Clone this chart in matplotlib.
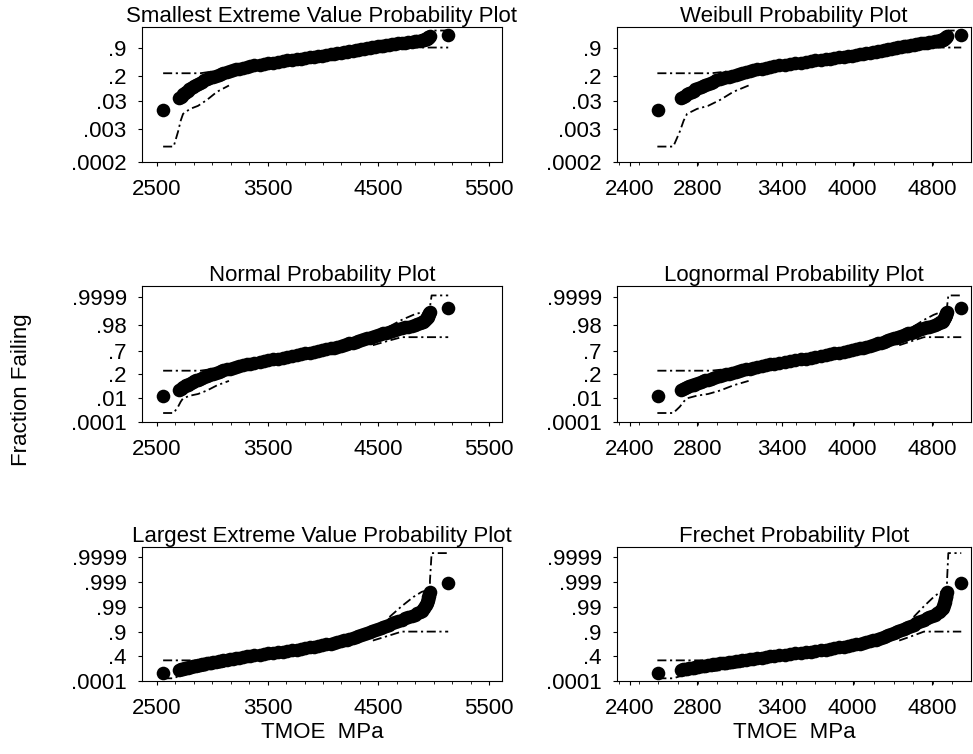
import numpy as np
import matplotlib
matplotlib.use('Agg')
import matplotlib.pyplot as plt
from matplotlib.ticker import FixedLocator, FixedFormatter, AutoMinorLocator, NullFormatter
from statistics import NormalDist

plt.rcParams['font.family'] = ['Liberation Sans', 'DejaVu Sans']

# sorted TMOE (MPa) and fraction failing
tmoe = [2557, 2698, 2722, 2750, 2776, 2805, 2836, 2868, 2905, 2948, 2990, 3035,
        3080, 3130, 3185, 3245, 3310, 3380, 3465, 3550, 3635, 3720, 3800, 3880,
        3955, 4030, 4100, 4160, 4215, 4268, 4320, 4370, 4420, 4470, 4520, 4570,
        4620, 4680, 4740, 4800, 4850, 4890, 4915, 4930, 4940, 4948, 4955, 4962, 5131]
frac = [0.0139, 0.0359, 0.0446, 0.0548, 0.0668, 0.0808, 0.0968, 0.1151, 0.1357,
        0.1587, 0.1841, 0.2119, 0.2420, 0.2743, 0.3085, 0.3446, 0.3821, 0.4207,
        0.4602, 0.5000, 0.5398, 0.5793, 0.6179, 0.6554, 0.6915, 0.7257, 0.7580,
        0.7881, 0.8159, 0.8413, 0.8643, 0.8849, 0.9032, 0.9192, 0.9332, 0.9452,
        0.9554, 0.9641, 0.9713, 0.9772, 0.9821, 0.9861, 0.9893, 0.9918, 0.9938,
        0.9953, 0.9965, 0.9974, 0.9989]
# the points lying between those along the dense chain
tmoe_b = [2712, 2733, 2766, 2788, 2824, 2849, 2889, 2922, 2972, 3008, 3061, 3100,
          3162, 3210, 3281, 3340, 3426, 3502, 3596, 3672, 3765, 3836, 3922, 3990,
          4070, 4128, 4190, 4238, 4297, 4342, 4398, 4441, 4498, 4541, 4600, 4648,
          4715, 4766, 4828, 4872, 4906, 4924, 4936, 4945, 4952, 4958]
frac_b = [0.0401, 0.0495, 0.0606, 0.0735, 0.0885, 0.1056, 0.1251, 0.1469, 0.1711,
          0.1977, 0.2266, 0.2578, 0.2912, 0.3264, 0.3632, 0.4013, 0.4404, 0.4801,
          0.5199, 0.5596, 0.5987, 0.6368, 0.6736, 0.7088, 0.7422, 0.7734, 0.8023,
          0.8289, 0.8531, 0.8749, 0.8944, 0.9115, 0.9265, 0.9394, 0.9505, 0.9599,
          0.9678, 0.9744, 0.9798, 0.9842, 0.9878, 0.9906, 0.9929, 0.9946, 0.9960,
          0.9970]

# simultaneous confidence band pieces (visible parts)
band_lo_a_v = [2555, 2650, 2690, 2714, 2735, 2798, 2870, 2952, 3042, 3150]
band_lo_a_p = [0.0007, 0.0007, 0.0024, 0.0059, 0.0102, 0.0153, 0.0196, 0.032, 0.061, 0.10]
band_up_a_v = [2555, 2890, 2990]
band_up_a_p = [0.25, 0.25, 0.28]
band_up_b_v = [4600, 4710, 4816, 4891, 4966, 4966, 4981, 5131]
band_up_b_p = [0.975, 0.9906, 0.996, 0.9975, 0.998, 0.9991, 0.99993, 0.99993]
band_lo_b_v = [4450, 4600, 4710, 5131]
band_lo_b_p = [0.80, 0.87, 0.907, 0.907]

titles = ['Smallest Extreme Value Probability Plot', 'Weibull Probability Plot',
          'Normal Probability Plot', 'Lognormal Probability Plot',
          'Largest Extreme Value Probability Plot', 'Frechet Probability Plot']
lin_ticks = [2500, 3500, 4500, 5500]
log_ticks = [2400, 2800, 3400, 4000, 4800]
sev_ticks = [0.9, 0.2, 0.03, 0.003, 0.0002]
nor_ticks = [0.9999, 0.98, 0.7, 0.2, 0.01, 0.0001]
lev_ticks = [0.9999, 0.999, 0.99, 0.9, 0.4, 0.0001]

nd = NormalDist()


def _clip(p):
    return np.clip(np.asarray(p, dtype=float), 1e-15, 1 - 1e-15)


def sev_f(p):
    return np.log(-np.log1p(-_clip(p)))


def sev_i(s):
    return -np.expm1(-np.exp(np.asarray(s, dtype=float)))


def nor_f(p):
    return np.vectorize(nd.inv_cdf, otypes=[float])(_clip(p))


def nor_i(z):
    return np.vectorize(nd.cdf, otypes=[float])(np.asarray(z, dtype=float))


def lev_f(p):
    return -np.log(-np.log(_clip(p)))


def lev_i(x):
    return np.exp(-np.exp(-np.asarray(x, dtype=float)))


def lab(t):
    return ('%g' % t).lstrip('0')


rows = [((sev_f, sev_i), sev_ticks, (-8.53, 2.55)),
        ((nor_f, nor_i), nor_ticks, (-3.73, 4.37)),
        ((lev_f, lev_i), lev_ticks, (-2.23, 10.13))]

fig = plt.figure(figsize=(9.73, 7.54), dpi=100)
W, H = 973.0, 754.0
cols = [(142, 360), (617, 354)]
tops = [(27, 135), (286, 136), (547, 134)]

for r, (funcs, yt, ylim) in enumerate(rows):
    for c in range(2):
        x0, w = cols[c]
        top, h = tops[r]
        ax = fig.add_axes([x0 / W, 1 - (top + h) / H, w / W, h / H])
        ax.set_yscale('function', functions=funcs)
        if c == 1:
            ax.set_xscale('log')
            ax.set_xlim(2329, 5247)
            ax.xaxis.set_major_locator(FixedLocator(log_ticks))
            ax.xaxis.set_major_formatter(FixedFormatter([str(t) for t in log_ticks]))
            ax.xaxis.set_minor_locator(FixedLocator(np.exp(np.arange(np.log(2340), np.log(5247), 0.045))))
            ax.xaxis.set_minor_formatter(NullFormatter())
        else:
            ax.set_xlim(2364, 5617)
            ax.xaxis.set_major_locator(FixedLocator(lin_ticks))
            ax.xaxis.set_minor_locator(AutoMinorLocator(6))

        for bv, bp in [(band_lo_a_v, band_lo_a_p), (band_up_a_v, band_up_a_p),
                       (band_up_b_v, band_up_b_p), (band_lo_b_v, band_lo_b_p)]:
            ax.plot(bv, bp, color='black', lw=1.3, ls=(0, (5, 2, 1.2, 2)), zorder=2)
        ax.plot(tmoe, frac, 'o', color='black', ms=9.8, mew=0, ls='none', zorder=3)
        ax.plot(tmoe_b, frac_b, 'o', color='black', ms=9.8, mew=0, ls='none', zorder=3)

        ax.set_ylim(funcs[1](ylim[0]), funcs[1](ylim[1]))
        ax.yaxis.set_major_locator(FixedLocator(yt))
        ax.yaxis.set_major_formatter(FixedFormatter([lab(t) for t in yt]))
        ax.yaxis.set_minor_locator(FixedLocator([]))

        ax.tick_params(axis='both', which='major', direction='out', length=3,
                       width=0.8, labelsize=16)
        ax.tick_params(axis='both', which='minor', direction='out', length=2, width=0.6)
        ax.tick_params(axis='x', pad=9)
        ax.tick_params(axis='y', pad=8)
        for s in ax.spines.values():
            s.set_linewidth(0.8)
        ax.set_title(titles[2 * r + c], fontsize=16, pad=1.5)
        if r == 2:
            ax.set_xlabel('TMOE  MPa', fontsize=16, labelpad=2.5)

fig.text(22 / W, 1 - 390 / H, 'Fraction Failing', rotation=90, fontsize=16,
         ha='center', va='center')

fig.savefig('out.png', dpi=100)
